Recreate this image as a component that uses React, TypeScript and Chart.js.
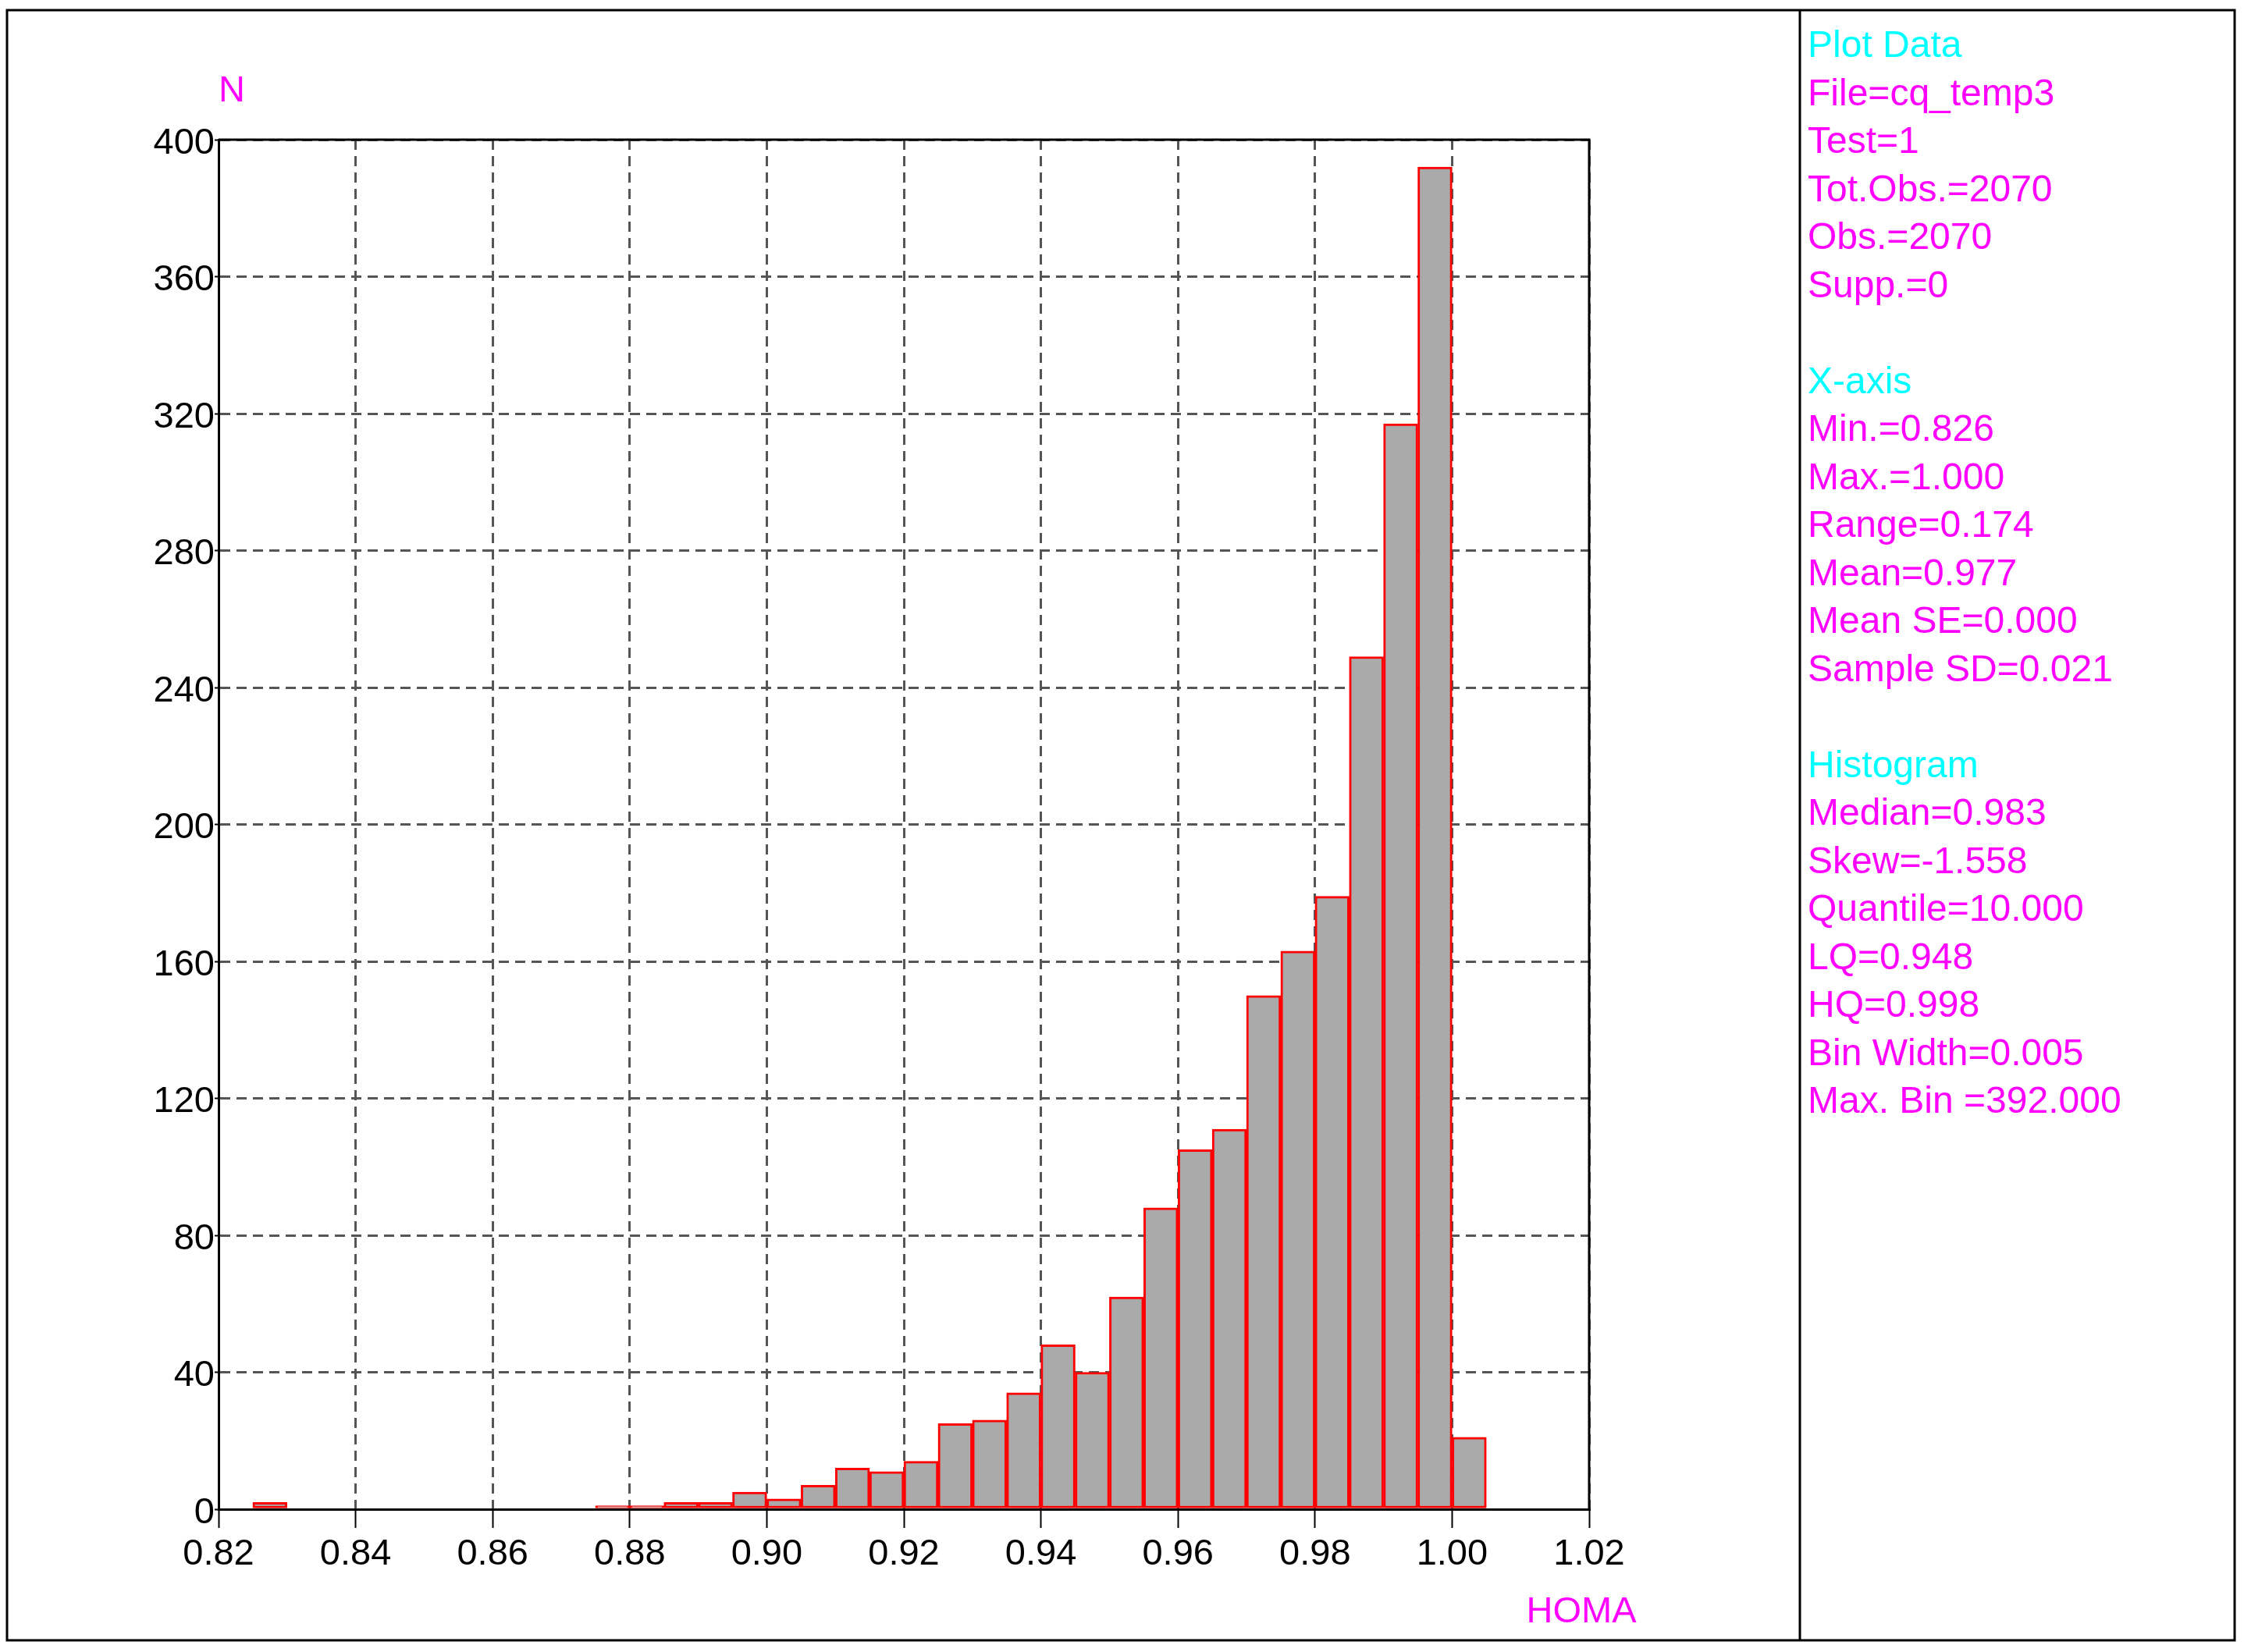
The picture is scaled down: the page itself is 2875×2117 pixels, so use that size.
import React, { useEffect, useRef } from "react";
import { Chart, registerables } from "chart.js";

Chart.register(...registerables);

// ---- data ----
const binStarts = [
  0.825, 0.875, 0.88, 0.885, 0.89, 0.895, 0.9, 0.905, 0.91, 0.915, 0.92, 0.925, 0.93, 0.935,
  0.94, 0.945, 0.95, 0.955, 0.96, 0.965, 0.97, 0.975, 0.98, 0.985, 0.99, 0.995, 1.0,
];
const counts = [
  2, 1, 1, 2, 2, 5, 3, 7, 12, 11, 14, 25, 26, 34, 48, 40, 62, 88, 105, 111, 150, 163, 179, 249,
  317, 392, 21,
];
const binWidth = 0.005;
const xTicks = [0.82, 0.84, 0.86, 0.88, 0.9, 0.92, 0.94, 0.96, 0.98, 1.0, 1.02];
const yTicks = [0, 40, 80, 120, 160, 200, 240, 280, 320, 360, 400];
const xTitle = "HOMA";
const yTitle = "N";
const panelHeaders = ["Plot Data", "X-axis", "Histogram"];
const panelLines = [
  "Plot Data",
  "File=cq_temp3",
  "Test=1",
  "Tot.Obs.=2070",
  "Obs.=2070",
  "Supp.=0",
  "",
  "X-axis",
  "Min.=0.826",
  "Max.=1.000",
  "Range=0.174",
  "Mean=0.977",
  "Mean SE=0.000",
  "Sample SD=0.021",
  "",
  "Histogram",
  "Median=0.983",
  "Skew=-1.558",
  "Quantile=10.000",
  "LQ=0.948",
  "HQ=0.998",
  "Bin Width=0.005",
  "Max. Bin =392.000",
];

const W = 2875;
const H = 2117;
const FONT = "'Liberation Sans', Arial, Helvetica, sans-serif";

const decorPlugin = {
  id: "decor",
  beforeDatasetsDraw(chart: any) {
    const { ctx, chartArea: a } = chart;
    ctx.save();
    ctx.strokeStyle = "#000";
    ctx.lineWidth = 3;
    ctx.beginPath();
    ctx.moveTo(a.left, a.top);
    ctx.lineTo(a.right, a.top);
    ctx.lineTo(a.right, a.bottom);
    ctx.stroke();
    ctx.restore();
  },
  afterDraw(chart: any) {
    const { ctx } = chart;
    ctx.save();
    // outer frame
    ctx.strokeStyle = "#000";
    ctx.lineWidth = 3;
    ctx.strokeRect(9, 13, 2863 - 9, 2102 - 13);
    // divider
    ctx.beginPath();
    ctx.moveTo(2306, 13);
    ctx.lineTo(2306, 2102);
    ctx.stroke();
    // axis titles
    ctx.font = `47px ${FONT}`;
    ctx.fillStyle = "#FF00FF";
    ctx.textAlign = "center";
    ctx.textBaseline = "middle";
    ctx.fillText(yTitle, 297, 117);
    ctx.fillText(xTitle, 2026, 2066);
    // panel text
    ctx.font = `48px ${FONT}`;
    ctx.textAlign = "left";
    panelLines.forEach((line, i) => {
      if (!line) return;
      ctx.fillStyle = panelHeaders.includes(line) ? "#00FFFF" : "#FF00FF";
      ctx.fillText(line, 2316, 60 + i * 61.5);
    });
    ctx.restore();
  },
};

export default function App() {
  const ref = useRef<HTMLCanvasElement | null>(null);

  useEffect(() => {
    if (!ref.current) return;
    const data = binStarts.map((s, i) => ({ x: s + binWidth / 2, y: counts[i] }));
    const chart = new Chart(ref.current, {
      type: "bar",
      data: {
        datasets: [
          {
            data: data as any,
            backgroundColor: "#AAAAAA",
            borderColor: "#FF0000",
            borderWidth: 3,
            borderSkipped: false,
            barPercentage: 1,
            categoryPercentage: 1,
          },
        ],
      },
      options: {
        responsive: false,
        animation: false,
        devicePixelRatio: 1,
        layout: { padding: { left: 0, right: W - 2036, top: 179, bottom: 2117 - 1934 - 100 } },
        plugins: { legend: { display: false }, tooltip: { enabled: false } },
        scales: {
          x: {
            type: "linear",
            min: xTicks[0],
            max: xTicks[xTicks.length - 1],
            offset: false,
            afterBuildTicks: (axis: any) => {
              axis.ticks = xTicks.map((v) => ({ value: v }));
            },
            afterFit: (axis: any) => {
              axis.height = 100;
            },
            ticks: {
              color: "#000",
              font: { family: FONT, size: 47 },
              padding: 6,
              maxRotation: 0,
              autoSkip: false,
              callback: (v: any) => Number(v).toFixed(2),
            },
            grid: {
              color: "#555555",
              lineWidth: 3,
              offset: false,
              drawTicks: true,
              tickColor: "#000",
              tickLength: 24,
              tickWidth: 2,
            },
            border: { display: true, color: "#000", width: 3, dash: [13, 8] },
          },
          y: {
            type: "linear",
            min: yTicks[0],
            max: yTicks[yTicks.length - 1],
            afterBuildTicks: (axis: any) => {
              axis.ticks = yTicks.map((v) => ({ value: v }));
            },
            afterFit: (axis: any) => {
              axis.width = 280;
            },
            ticks: {
              color: "#000",
              font: { family: FONT, size: 47 },
              padding: 0,
              labelOffset: 5,
              autoSkip: false,
              callback: (v: any) => String(v),
            },
            grid: {
              color: "#555555",
              lineWidth: 3,
              drawTicks: true,
              tickColor: "#000",
              tickLength: 5,
              tickWidth: 2,
            },
            border: { display: true, color: "#000", width: 3, dash: [13, 8] },
          },
        },
      },
      plugins: [decorPlugin],
    });
    return () => chart.destroy();
  }, []);

  return (
    <div style={{ position: "absolute", left: 0, top: 0, width: W, height: H, background: "#fff" }}>
      <canvas ref={ref} width={W} height={H} style={{ display: "block", width: W, height: H }} />
    </div>
  );
}
